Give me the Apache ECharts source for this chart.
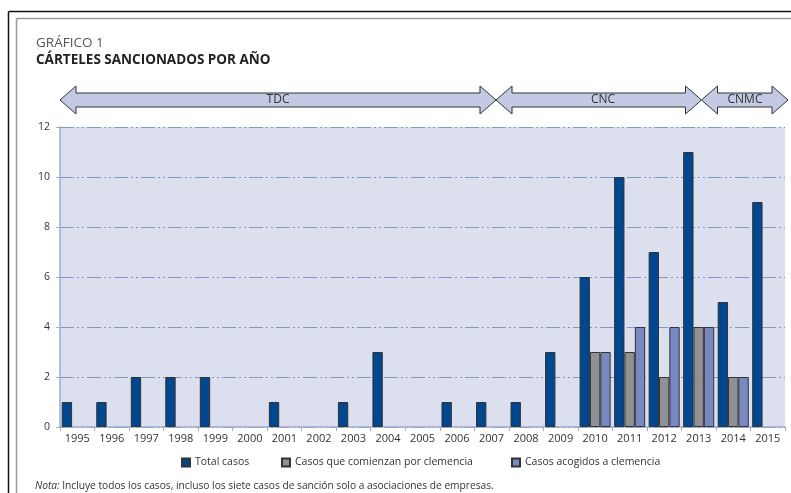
<!DOCTYPE html>
<html>
<head>
<meta charset="utf-8">
<script src="https://cdn.jsdelivr.net/npm/echarts@6/dist/echarts.min.js"></script>
<style>
  html, body { margin: 0; padding: 0; background: #fff; }
  #chart { width: 791px; height: 493px; }
</style>
</head>
<body>
<div id="chart"></div>
<script>
// datos ('-' = sin barra)
const years = ['1995', '1996', '1997', '1998', '1999', '2000', '2001', '2002', '2003', '2004', '2005',
  '2006', '2007', '2008', '2009', '2010', '2011', '2012', '2013', '2014', '2015']
const totalCasos = [1, 1, 2, 2, 2, '-', 1, '-', 1, 3, '-', 1, 1, 1, 3, 6, 10, 7, 11, 5, 9]
const comienzanClemencia = ['-', '-', '-', '-', '-', '-', '-', '-', '-', '-', '-', '-', '-', '-', '-', 3, 3, 2, 4, 2, '-']
const acogidosClemencia = ['-', '-', '-', '-', '-', '-', '-', '-', '-', '-', '-', '-', '-', '-', '-', 3, 4, 4, 4, 2, '-']
const seriesNames = ['Total casos', 'Casos que comienzan por clemencia', 'Casos acogidos a clemencia']
const periods = ['TDC', 'CNC', 'CNMC']

const font = '"Open Sans", "Noto Sans", sans-serif'
const arrowFill = '#c4cae3'

// flecha entre x1 y x2 (punta a ambos lados)
function arrow(x1, x2) {
  const yc = 100, hb = 7, hh = 14, hl = 16
  const pts = [[x1, yc], [x1 + hl, yc - hh], [x1 + hl, yc - hb], [x2 - hl, yc - hb], [x2 - hl, yc - hh], [x2, yc],
    [x2 - hl, yc + hh], [x2 - hl, yc + hb], [x1 + hl, yc + hb], [x1 + hl, yc + hh]]
  return {
    type: 'polygon',
    shape: { points: pts },
    style: { fill: arrowFill, stroke: '#333', lineWidth: 1 }
  }
}

function label(text, x) {
  return {
    type: 'text', x: x, y: 100,
    style: { text: text, font: '12px ' + font, fill: '#333', align: 'center', verticalAlign: 'middle' }
  }
}

function legendAt(name, left) {
  return {
    data: [name], left: left, top: 452, itemWidth: 8, itemHeight: 8, icon: 'rect',
    textStyle: { fontSize: 10.5, color: '#333' }
  }
}

const chart = echarts.init(document.getElementById('chart'))

const option = {
  animation: false,
  textStyle: { fontFamily: font },
  grid: { left: 60, right: 6, top: 127, bottom: 66 },
  legend: [
    legendAt(seriesNames[0], 176),
    legendAt(seriesNames[1], 276),
    legendAt(seriesNames[2], 506)
  ],
  xAxis: {
    type: 'category',
    data: years,
    axisLine: { lineStyle: { color: '#9fabd2', width: 1.5 } },
    axisTick: { show: true, length: 4, lineStyle: { color: '#9fabd2' } },
    axisLabel: { color: '#333', fontSize: 11, margin: 6 }
  },
  yAxis: {
    type: 'value',
    min: 0,
    max: 12,
    interval: 2,
    axisLine: { show: true, lineStyle: { color: '#9fabd2', width: 1.5 } },
    axisTick: { show: true, length: 4, lineStyle: { color: '#9fabd2' } },
    axisLabel: { color: '#333', fontSize: 10.5, margin: 10 },
    splitLine: { lineStyle: { color: '#8596c8', width: 1, type: [14, 3, 2, 3, 2, 3] } },
    splitArea: { show: true, areaStyle: { color: ['#dcdfee', '#dcdfee'] } }
  },
  series: [
    {
      name: seriesNames[0], type: 'bar', data: totalCasos,
      barGap: 0, barCategoryGap: '10%',
      itemStyle: { color: '#00478f', borderColor: '#333', borderWidth: 1 }
    },
    {
      name: seriesNames[1], type: 'bar', data: comienzanClemencia,
      itemStyle: { color: '#909194', borderColor: '#333', borderWidth: 1 }
    },
    {
      name: seriesNames[2], type: 'bar', data: acogidosClemencia,
      itemStyle: { color: '#7889c1', borderColor: '#333', borderWidth: 1 }
    }
  ],
  graphic: [
    // marco
    { type: 'line', shape: { x1: 8.5, y1: 11.5, x2: 791, y2: 11.5 }, style: { stroke: '#111', lineWidth: 1.5 } },
    { type: 'line', shape: { x1: 8.5, y1: 11.5, x2: 8.5, y2: 493 }, style: { stroke: '#111', lineWidth: 1.5 } },
    { type: 'line', shape: { x1: 16.5, y1: 18.5, x2: 791, y2: 18.5 }, style: { stroke: '#999', lineWidth: 1.5 } },
    { type: 'line', shape: { x1: 16.5, y1: 18.5, x2: 16.5, y2: 493 }, style: { stroke: '#999', lineWidth: 1.5 } },
    // títulos
    {
      type: 'text', left: 36, top: 36,
      style: { text: 'GRÁFICO 1', font: '13.5px ' + font, fill: '#555' }
    },
    {
      type: 'text', left: 36, top: 53,
      style: { text: 'CÁRTELES SANCIONADOS POR AÑO', font: 'bold 13.5px ' + font, fill: '#222' }
    },
    // periodos
    arrow(60, 496),
    arrow(496, 701.5),
    arrow(701.5, 788),
    label(periods[0], 278),
    label(periods[1], 603),
    label(periods[2], 745),
    // nota
    {
      type: 'text', left: 35, top: 481,
      style: {
        text: '{i|Nota:} Incluye todos los casos, incluso los siete casos de sanción solo a asociaciones de empresas.',
        font: '10.2px ' + font, fill: '#333',
        rich: { i: { fontStyle: 'italic', fontSize: 10.2, fontFamily: font, fill: '#333' } }
      }
    }
  ]
}

chart.setOption(option)
</script>
</body>
</html>
